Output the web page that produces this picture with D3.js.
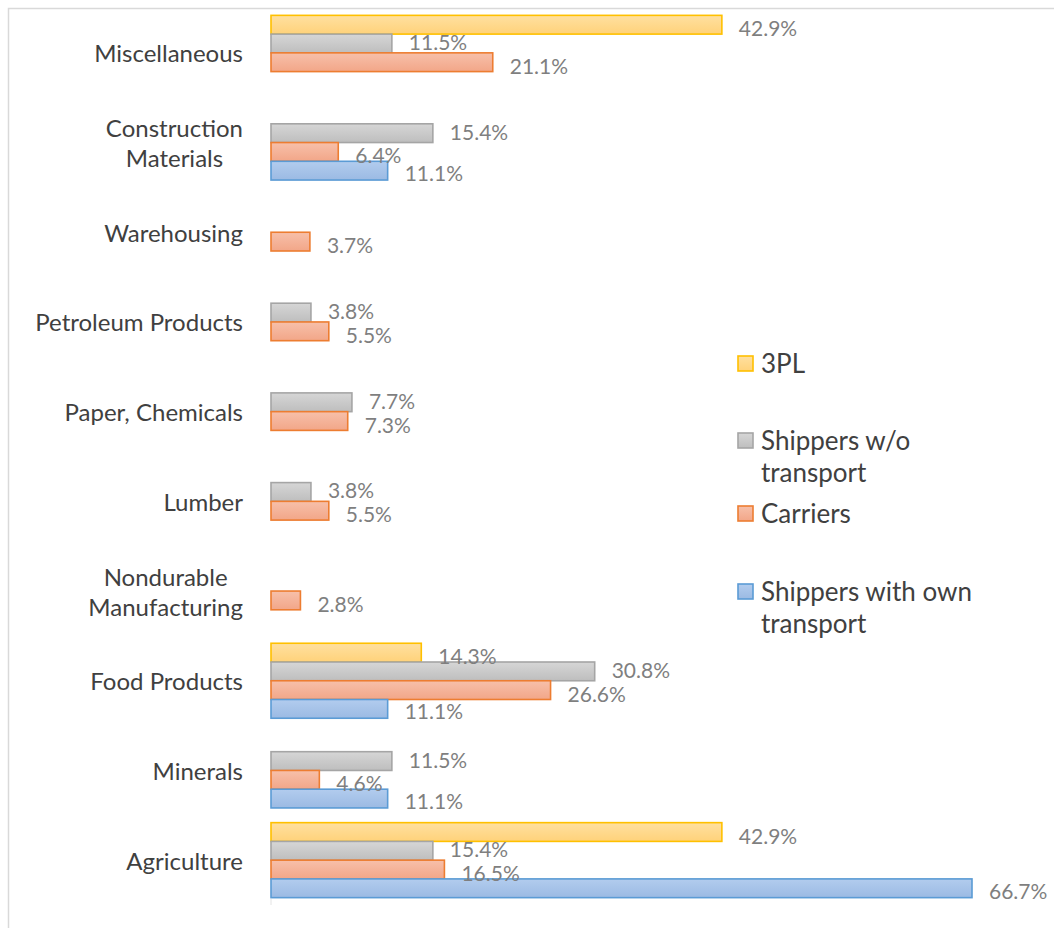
<!DOCTYPE html>
<html><head><meta charset="utf-8">
<script src="https://cdn.jsdelivr.net/npm/d3@7"></script>
<style>body{margin:0;background:#fff}svg{display:block}</style>
</head><body>
<script>
const categories = ["Miscellaneous","Construction Materials","Warehousing","Petroleum Products","Paper, Chemicals","Lumber","Nondurable Manufacturing","Food Products","Minerals","Agriculture"];
const categoryLines = [["Miscellaneous"],["Construction","Materials"],["Warehousing"],["Petroleum Products"],["Paper, Chemicals"],["Lumber"],["Nondurable","Manufacturing"],["Food Products"],["Minerals"],["Agriculture"]];
const seriesNames = ["3PL","Shippers w/o transport","Carriers","Shippers with own transport"];
const legendLines = [["3PL"],["Shippers w/o","transport"],["Carriers"],["Shippers with own","transport"]];
const v3PL       = [42.9, null, null, null, null, null, null, 14.3, null, 42.9];
const vShippersWo= [11.5, 15.4, null, 3.8, 7.7, 3.8, null, 30.8, 11.5, 15.4];
const vCarriers  = [21.1, 6.4, 3.7, 5.5, 7.3, 5.5, 2.8, 26.6, 4.6, 16.5];
const vShippersOwn=[null, 11.1, null, null, null, null, null, 11.1, 11.1, 66.7];
const seriesValues = [v3PL, vShippersWo, vCarriers, vShippersOwn];

const W = 1054, H = 928;
const styles = [
  {stroke:"#FFC000", top:"#FFE0A0", bot:"#FFD27A", dy:3},
  {stroke:"#A5A5A5", top:"#D6D6D6", bot:"#BEBEBE", dy:-2},
  {stroke:"#ED7D31", top:"#F7C0AA", bot:"#F2A688", dy:3},
  {stroke:"#5B9BD5", top:"#B2CCEE", bot:"#9BBAE3", dy:2}
];
const FONT = "Lato, 'Open Sans', sans-serif";

const svg = d3.select("body").append("svg").attr("width", W).attr("height", H);
const defs = svg.append("defs");
styles.forEach((s,i)=>{
  const g = defs.append("linearGradient").attr("id","g"+i).attr("x1",0).attr("y1",0).attr("x2",0).attr("y2",1);
  g.append("stop").attr("offset","0%").attr("stop-color",s.top);
  g.append("stop").attr("offset","100%").attr("stop-color",s.bot);
});

svg.append("rect").attr("x",8.5).attr("y",8.5).attr("width",W+10).attr("height",H+10)
  .attr("fill","none").attr("stroke","#D9D9D9").attr("stroke-width",1.5);

const x = d3.scaleLinear().domain([0, 66.7]).range([271, 972]);
const y = d3.scaleBand().domain(categories).range([8, 905]).paddingInner(0.164).paddingOuter(0.082);
const ys = d3.scaleBand().domain(seriesNames).range([0, y.bandwidth()]);

// small axis tick
svg.append("line").attr("x1",x(0)).attr("x2",x(0)).attr("y1",899).attr("y2",905)
  .attr("stroke","#E4E4E4").attr("stroke-width",1);

const data = [];
categories.forEach((c,ci)=>seriesNames.forEach((s,si)=>{
  const v = seriesValues[si][ci];
  if (v != null) data.push({c, s, si, v});
}));

const gBars = svg.append("g");
gBars.selectAll("rect").data(data).join("rect")
  .attr("x", x(0)).attr("y", d=>y(d.c)+ys(d.s))
  .attr("width", d=>x(d.v)-x(0)).attr("height", ys.bandwidth())
  .attr("fill", d=>`url(#g${d.si})`).attr("stroke", d=>styles[d.si].stroke).attr("stroke-width",1.6);

svg.append("g").selectAll("text").data(data).join("text")
  .attr("x", d=>x(d.v)+17).attr("y", d=>y(d.c)+ys(d.s)+ys.bandwidth()/2+styles[d.si].dy)
  .attr("dominant-baseline","central")
  .attr("font-family",FONT).attr("font-size",21).attr("fill","#7F7F7F")
  .text(d=>d.v.toFixed(1)+"%");

// category labels
const gCat = svg.append("g");
categories.forEach((c,ci)=>{
  const lines = categoryLines[ci];
  const cy = y(c)+y.bandwidth()/2;
  const lh = 30;
  const texts = lines.map((l,li)=>gCat.append("text")
    .attr("y", cy + (li-(lines.length-1)/2)*lh)
    .attr("dominant-baseline","central")
    .attr("font-family",FONT).attr("font-size",24).attr("fill","#404040")
    .attr("text-anchor","middle").text(l));
  const wmax = d3.max(texts, t=>t.node().getComputedTextLength());
  const cx = 243 - wmax/2;
  texts.forEach(t=>t.attr("x",cx));
});

// legend
const legendY = [363, 440, 513, 591];
const gLeg = svg.append("g");
seriesNames.forEach((s,i)=>{
  gLeg.append("rect").attr("x",738).attr("y",legendY[i]-7).attr("width",15).attr("height",15)
    .attr("fill",`url(#g${i})`).attr("stroke",styles[i].stroke).attr("stroke-width",1.6);
  legendLines[i].forEach((l,li)=>{
    gLeg.append("text").attr("x",761).attr("y",legendY[i]+li*32)
      .attr("dominant-baseline","central")
      .attr("font-family",FONT).attr("font-size",26).attr("fill","#404040").text(l);
  });
});
</script>
</body></html>
